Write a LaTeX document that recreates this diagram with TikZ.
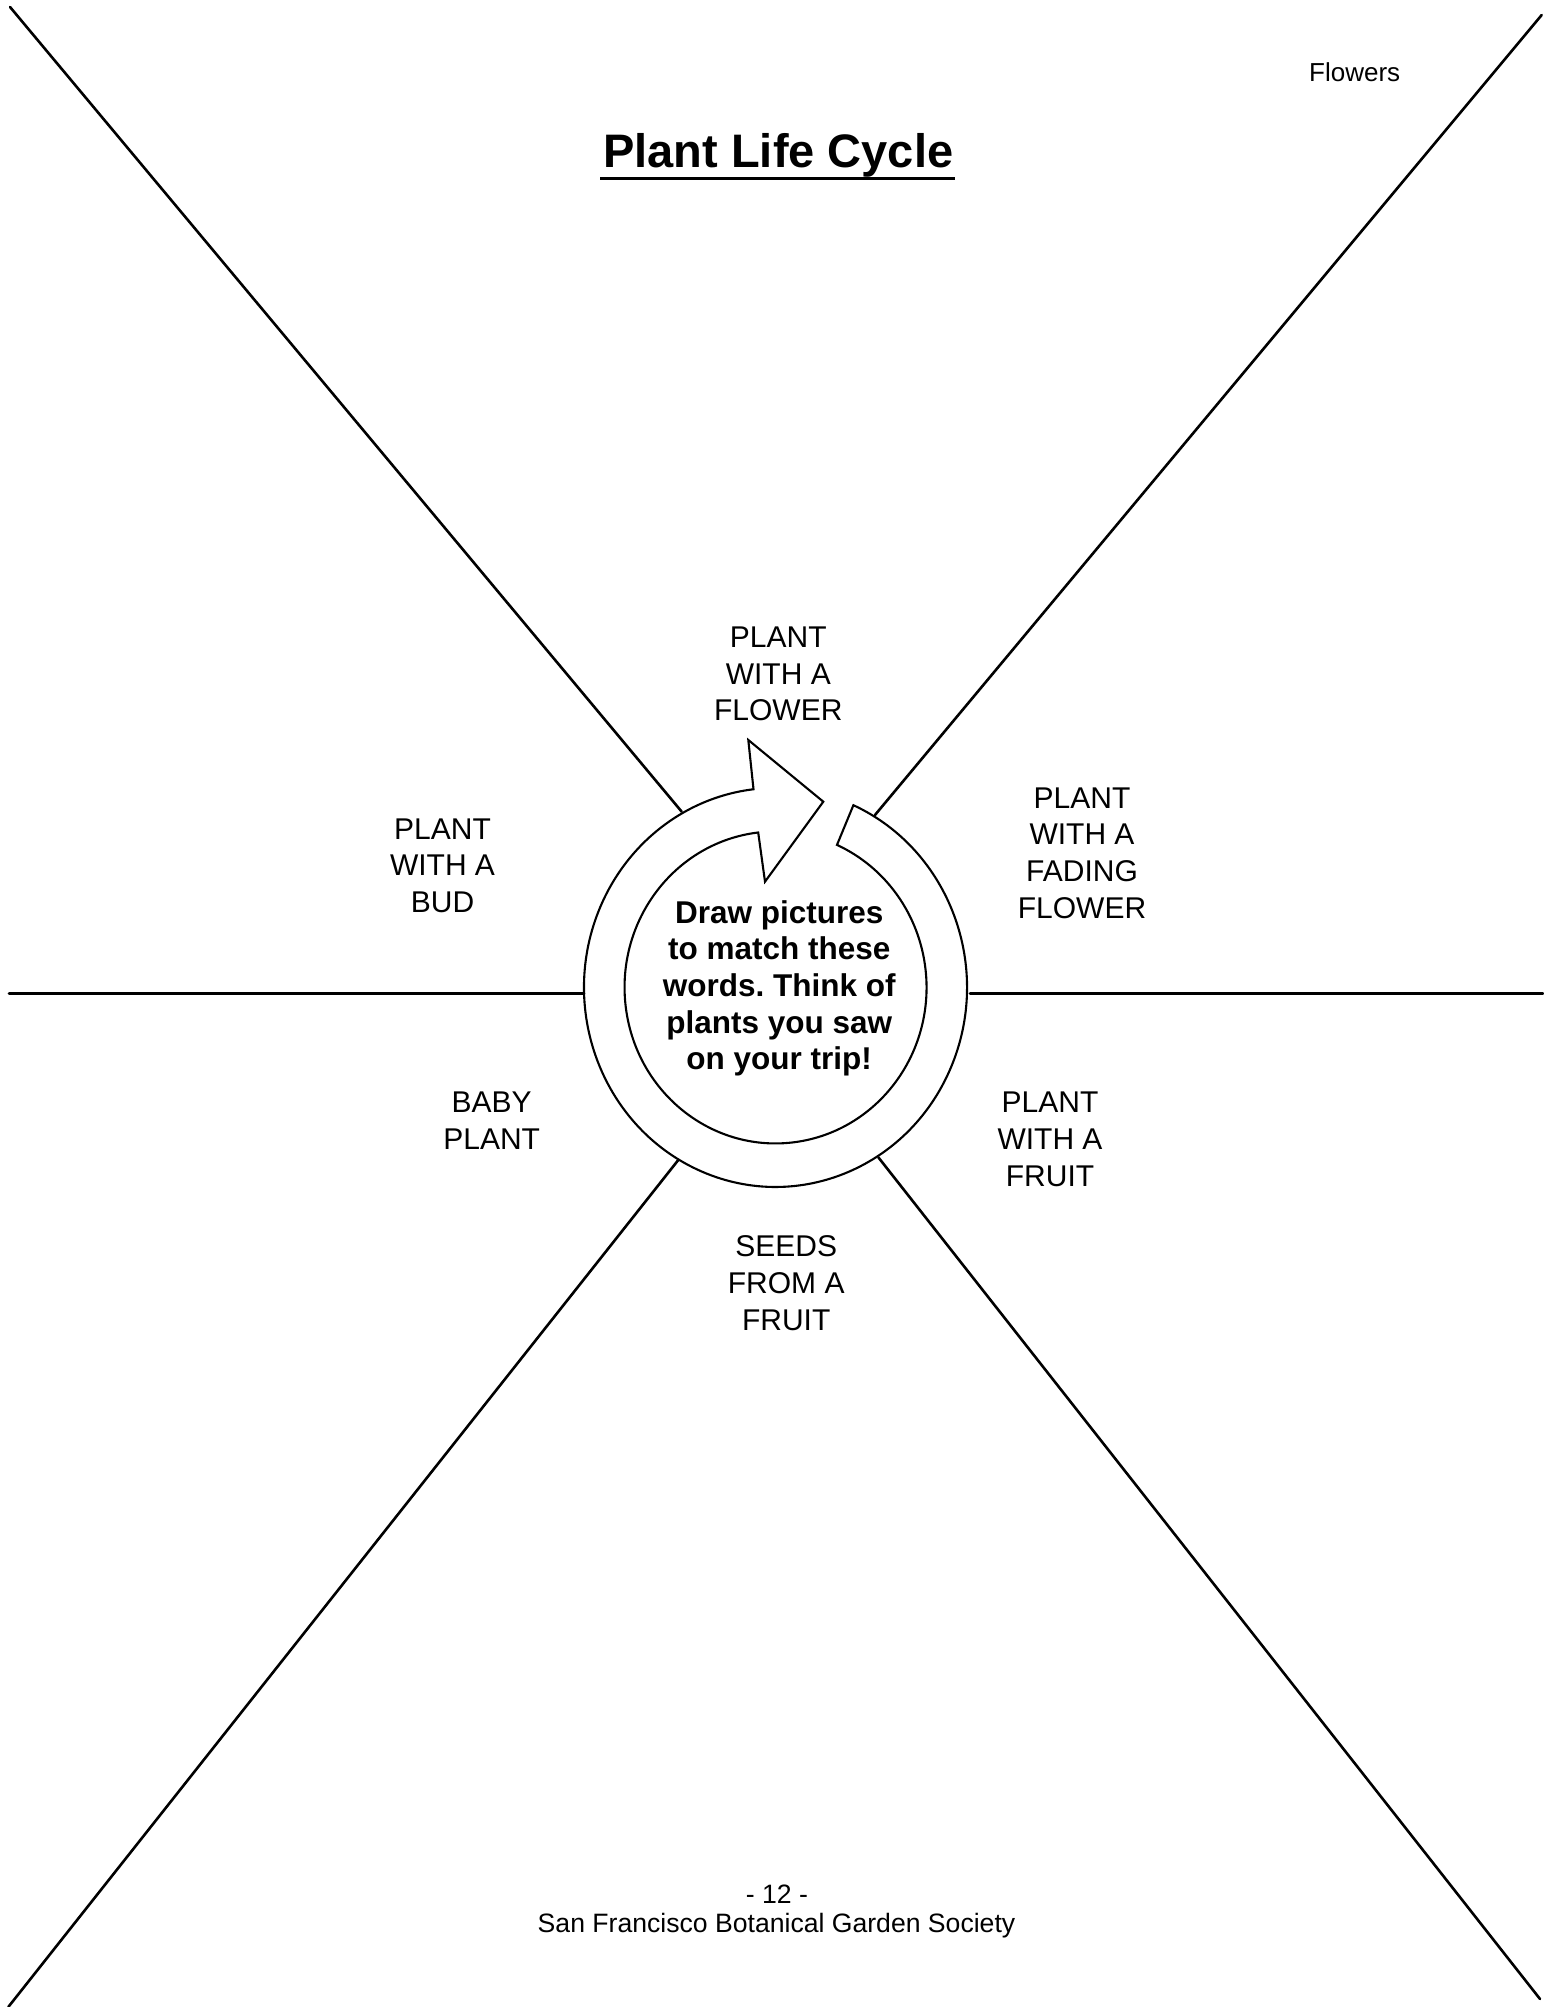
\documentclass[tikz,border=0pt]{standalone}
\usepackage{fontspec}
\setmainfont{Liberation Sans}
\frenchspacing
\begin{document}
\begin{tikzpicture}[x=1pt,y=1pt,
  divider/.style={line width=2.6pt, line cap=round},
  ringline/.style={line width=2.1pt, line join=miter},
  lbl/.style={anchor=north, inner sep=0pt, align=center, font=\fontsize{30}{36.7}\selectfont},
  centertext/.style={anchor=north, inner sep=0pt, align=center, font=\fontsize{31.5}{36.7}\selectfont\bfseries},
  smalltext/.style={inner sep=0pt, font=\fontsize{26.6}{30}\selectfont}]
\useasboundingbox (0,0) rectangle (1543,2007);
\fill[white] (0,0) rectangle (1543,2007);
% end points of the dividing lines
\coordinate (tlA) at (10,2000);
\coordinate (tlB) at (681.7,1195.3);
\coordinate (trA) at (1541.7,1992);
\coordinate (trB) at (875,1192);
\coordinate (blA) at (8.3,0);
\coordinate (blB) at (678.3,847);
\coordinate (brA) at (1540,8);
\coordinate (brB) at (878.3,849.7);
\coordinate (hlA) at (9,1013.7);
\coordinate (hlB) at (584,1013.7);
\coordinate (hrA) at (970,1013.7);
\coordinate (hrB) at (1543,1013.7);
\draw[divider] (tlA) -- (tlB);
\draw[divider] (trA) -- (trB);
\draw[divider] (blA) -- (blB);
\draw[divider] (brA) -- (brB);
\draw[divider] (hlA) -- (hlB);
\draw[divider] (hrA) -- (hrB);
% circular arrow
\coordinate (tailout) at (853.4,1201.8);
\coordinate (headtop) at (748.3,1267);
\coordinate (headtip) at (823.3,1205.3);
\coordinate (headbot) at (765,1125.3);
\coordinate (basein) at (758.2,1174.5);
\draw[ringline] (tailout) arc[start angle=66, end angle=-263.4, x radius=191.5, y radius=199.5]
  -- (headtop) -- (headtip) -- (headbot) -- (basein)
  arc[start angle=96.6, end angle=426, x radius=151, y radius=156] -- cycle;
% title
\node[anchor=base, inner sep=0pt, font=\fontsize{47}{50}\selectfont\bfseries] (title) at (778.3,1839) {Plant Life Cycle};
\coordinate (ulA) at (600,1828.7);
\coordinate (ulB) at (955,1828.7);
\draw[line width=3.3pt] (ulA) -- (ulB);
\node[inner sep=0pt, font=\fontsize{26}{30}\selectfont, anchor=base west] (topic) at (1309,1925.3) {Flowers};
% stage labels
\node[lbl] (flower) at (778.3,1380.3) {PLANT\\WITH A\\FLOWER};
\node[lbl] (bud) at (442.5,1188.7) {PLANT\\WITH A\\BUD};
\node[lbl] (fading) at (1082,1219.6) {PLANT\\WITH A\\FADING\\FLOWER};
\node[lbl] (baby) at (491.7,915) {BABY\\PLANT};
\node[lbl] (fruit) at (1050,915) {PLANT\\WITH A\\FRUIT};
\node[lbl] (seeds) at (786.2,771.4) {SEEDS\\FROM A\\FRUIT};
\node[centertext] (instr) at (779.2,1107) {Draw pictures\\to match these\\words. Think of\\plants you saw\\on your trip!};
% footer
\node[smalltext, anchor=base] (page) at (777,103) {-\ 12\ -};
\node[smalltext, anchor=base] (society) at (776.5,74) {San Francisco Botanical Garden Society};
\end{tikzpicture}
\end{document}
